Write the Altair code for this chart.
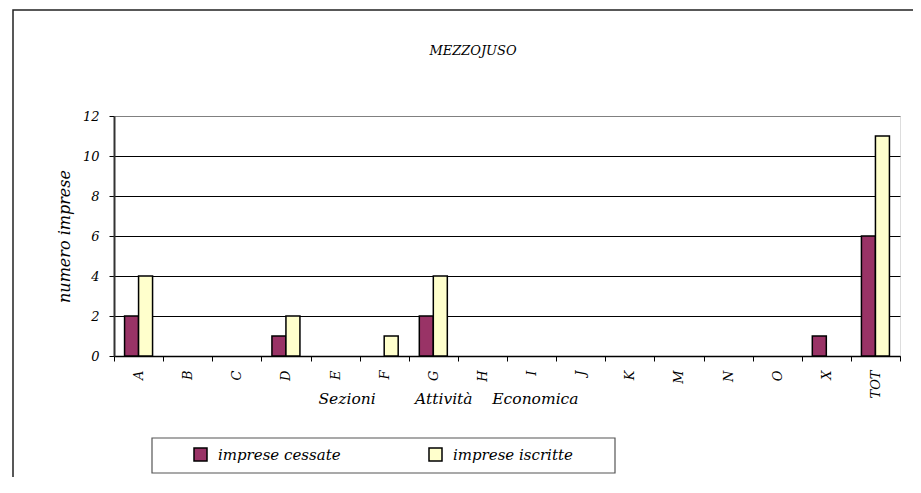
import altair as alt
import pandas as pd

categories = ["A", "B", "C", "D", "E", "F", "G", "H", "I", "J", "K", "M", "N", "O", "X", "TOT"]
cessate = [2, 0, 0, 1, 0, 0, 2, 0, 0, 0, 0, 0, 0, 0, 1, 6]
iscritte = [4, 0, 0, 2, 0, 1, 4, 0, 0, 0, 0, 0, 0, 0, 0, 11]
series = ["imprese cessate", "imprese iscritte"]
colors = ["#993366", "#FFFFCC"]
y_ticks = [0, 2, 4, 6, 8, 10, 12]

rows = []
for c, a, b in zip(categories, cessate, iscritte):
    rows.append({"cat": c, "serie": series[0], "value": a})
    rows.append({"cat": c, "serie": series[1], "value": b})
df = pd.DataFrame(rows)

FONT = "DejaVu Serif"
NB = "\u00a0"
xtitle = "Sezioni" + NB * 8 + "Attività" + NB * 4 + "Economica"

bars = alt.Chart(df).transform_filter("datum.value > 0").mark_bar(
    stroke="black", strokeWidth=1.5
).encode(
    x=alt.X(
        "cat:N", sort=categories,
        scale=alt.Scale(domain=categories, paddingInner=0, paddingOuter=0),
        axis=alt.Axis(
            title=xtitle, labelAngle=-90, tickBand="extent", tickSize=5,
            tickColor="black", domainColor="black", domainWidth=1.5,
            labelFont=FONT, labelFontStyle="italic", labelFontSize=13,
            labelColor="black", labelPadding=9,
            titleFont=FONT, titleFontStyle="italic", titleFontWeight="normal",
            titleFontSize=15.5, titleColor="black",
            titleX=334, titleY=47, titleBaseline="alphabetic", titleAlign="center",
        ),
    ),
    xOffset=alt.XOffset(
        "serie:N", sort=series,
        scale=alt.Scale(domain=series, paddingInner=0, paddingOuter=0.754),
    ),
    y=alt.Y(
        "value:Q",
        scale=alt.Scale(domain=[0, 12], nice=False),
        axis=alt.Axis(
            title="numero imprese", values=y_ticks, tickSize=5, tickColor="black",
            domainColor="#333333", domainWidth=2,
            gridColor={"condition": {"test": "datum.value === 12", "value": "#808080"}, "value": "black"},
            gridWidth=1,
            labelFont=FONT, labelFontStyle="italic", labelFontSize=13,
            labelColor="black", labelPadding=10,
            titleFont=FONT, titleFontStyle="italic", titleFontWeight="normal",
            titleFontSize=16, titleColor="black", titlePadding=10,
        ),
    ),
    color=alt.Color(
        "serie:N", sort=series,
        scale=alt.Scale(domain=series, range=colors),
        legend=alt.Legend(
            title=None, orient="none", legendX=79, legendY=331,
            direction="horizontal", columnPadding=85, padding=0,
            symbolType="square", symbolSize=169, symbolStrokeColor="black",
            symbolStrokeWidth=1.5, symbolOpacity=1, labelOffset=10,
            labelFont=FONT, labelFontStyle="italic", labelFontSize=15,
            labelColor="black", labelLimit=300,
        ),
    ),
)

frame = alt.Chart(pd.DataFrame({"k": [0]})).mark_rect(
    fill="transparent", stroke="#222222", strokeWidth=1.5
).encode(x=alt.value(-101), x2=alt.value(830), y=alt.value(-106), y2=alt.value(600))

legend_box = alt.Chart(pd.DataFrame({"k": [0]})).mark_rect(
    fill="transparent", stroke="#555555", strokeWidth=1.2
).encode(x=alt.value(38), x2=alt.value(501), y=alt.value(322), y2=alt.value(357))

chart = alt.layer(frame, legend_box, bars).properties(
    width=786, height=240,
    autosize=alt.AutoSizeParams(type="none"),
    padding={"left": 106, "top": 108, "right": 13, "bottom": 121},
    title=alt.TitleParams(
        "MEZZOJUSO", font=FONT, fontStyle="italic", fontWeight="normal",
        fontSize=13, color="black", anchor="middle", dx=-34, offset=-62,
        baseline="bottom",
    ),
).configure_view(stroke="#808080", strokeWidth=1).configure(background="white")

chart.save("out.html", embed_options={"renderer": "svg", "actions": False})
